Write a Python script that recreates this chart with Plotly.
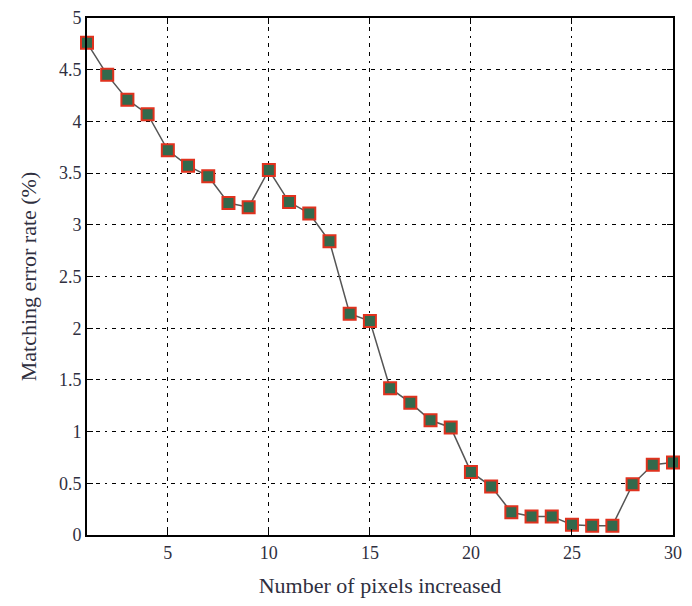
import plotly.graph_objects as go

pixels = list(range(1, 31))
error_rate = [4.76, 4.45, 4.21, 4.07, 3.72, 3.57, 3.47, 3.21, 3.17, 3.53,
              3.22, 3.11, 2.84, 2.14, 2.07, 1.42, 1.28, 1.11, 1.04, 0.61,
              0.47, 0.22, 0.18, 0.18, 0.10, 0.09, 0.09, 0.49, 0.68, 0.70]
x_ticks = [5, 10, 15, 20, 25, 30]
y_ticks = [0, 0.5, 1, 1.5, 2, 2.5, 3, 3.5, 4, 4.5, 5]
y_tick_labels = ["0", "0.5", "1", "1.5", "2", "2.5", "3", "3.5", "4", "4.5", "5"]

fig = go.Figure()
fig.add_trace(go.Scatter(
    x=pixels, y=error_rate, mode="lines+markers",
    line=dict(color="#555555", width=1.5),
    marker=dict(symbol="square", size=12, color="#33694c",
                line=dict(color="#e0321e", width=2)),
    cliponaxis=False, showlegend=False,
))

font = dict(family="Liberation Serif, DejaVu Serif, serif", size=18, color="#2f2f40")
grid_dash = "4px,5px,4px,5px,2px,5px"
common = dict(ticks="inside", ticklen=6, tickcolor="black", tickwidth=1.2,
              showline=True, linecolor="black", linewidth=2, mirror="ticks",
              showgrid=True, gridcolor="black", gridwidth=1.3, griddash=grid_dash,
              zeroline=False, automargin=False, layer="above traces")
# page body has an 8px margin; figure placed at (8, 8)
fig.update_layout(
    width=676, height=590,
    margin=dict(l=79, r=11, t=10, b=63),
    paper_bgcolor="white", plot_bgcolor="white",
    font=font,
    xaxis=dict(range=[1, 30], tickvals=x_ticks,
               title=dict(text="Number of pixels increased", standoff=18), **common),
    yaxis=dict(range=[0, 5], tickvals=y_ticks, ticktext=y_tick_labels,
               title=dict(text="Matching error rate (%)", standoff=16), **common),
)
fig.write_html("out.html")
